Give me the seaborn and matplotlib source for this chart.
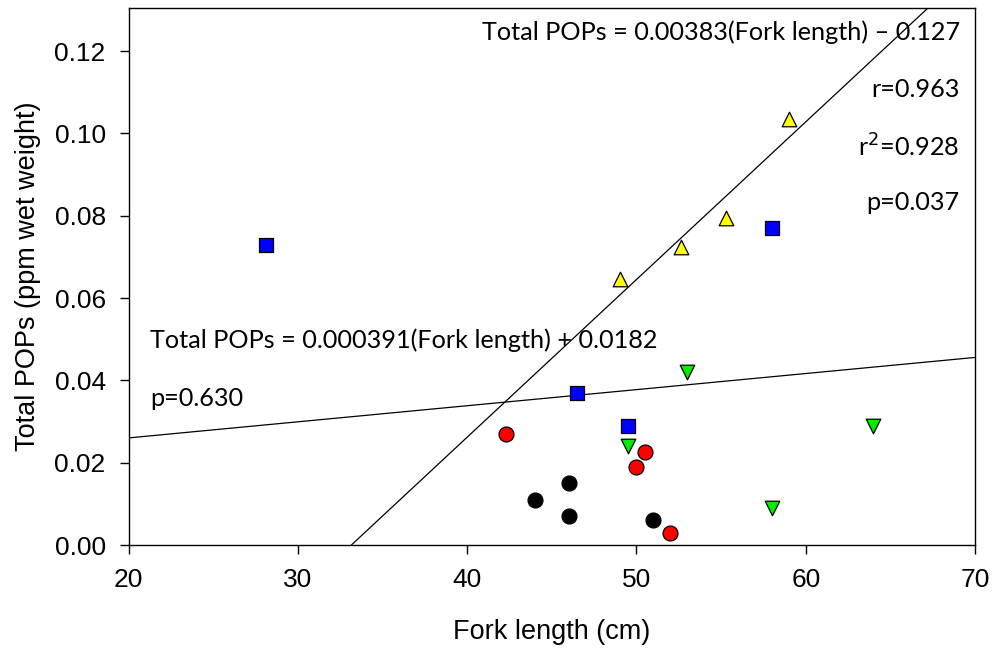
import matplotlib
matplotlib.use("Agg")
import matplotlib.pyplot as plt
import numpy as np
import pandas as pd
import seaborn as sns

# Fork length (cm) and total POPs (ppm wet weight) per group
sq_x = [28.1, 46.5, 49.5, 58.0]
sq_y = [0.073, 0.037, 0.029, 0.077]
up_x = [49.0, 52.6, 55.3, 59.0]
up_y = [0.0645, 0.0725, 0.0795, 0.1035]
dn_x = [53.0, 49.5, 64.0, 58.0]
dn_y = [0.042, 0.024, 0.029, 0.009]
red_x = [42.3, 50.5, 50.0, 52.0]
red_y = [0.027, 0.0225, 0.019, 0.003]
blk_x = [44.0, 46.0, 46.0, 51.0]
blk_y = [0.011, 0.015, 0.007, 0.006]

# Regression lines: slope, intercept
fit_steep = (0.00383, -0.127)
fit_flat = (0.000391, 0.0182)

x_ticks = [20, 30, 40, 50, 60, 70]
y_ticks = [0.00, 0.02, 0.04, 0.06, 0.08, 0.10, 0.12]

sns.set_theme(style="white")
plt.rcParams["font.family"] = ["Liberation Sans", "DejaVu Sans"]
plt.rcParams["text.color"] = "black"
plt.rcParams["axes.labelcolor"] = "black"
plt.rcParams["xtick.color"] = "black"
plt.rcParams["ytick.color"] = "black"

fig = plt.figure(figsize=(9.97, 6.5), dpi=100)
ax = fig.add_axes([0.129, 0.1615, 0.849, 0.8265])

groups = [
    (sq_x, sq_y, "s", "#0000ff", 95),
    (up_x, up_y, "^", "#ffff00", 110),
    (dn_x, dn_y, "v", "#00ee00", 110),
    (red_x, red_y, "o", "#ff0000", 115),
    (blk_x, blk_y, "o", "#000000", 115),
]
for gx, gy, mk, col, size in groups:
    df = pd.DataFrame({"x": gx, "y": gy})
    sns.scatterplot(data=df, x="x", y="y", marker=mk, color=col, s=size,
                    edgecolor="black", linewidth=0.9, ax=ax, zorder=3)

xs = np.array([20, 70])
for m, b in (fit_steep, fit_flat):
    ax.plot(xs, m * xs + b, color="black", lw=0.9, zorder=2)

ax.set_xlim(20, 70)
ax.set_ylim(0, 0.1305)
ax.set_xticks(x_ticks)
ax.set_yticks(y_ticks)
ax.set_yticklabels([f"{v:.2f}" for v in y_ticks])
ax.tick_params(axis="both", direction="out", length=6.5, width=1, color="black",
               labelsize=19, bottom=True, left=True)
ax.tick_params(axis="x", pad=10)
ax.tick_params(axis="y", pad=10)
for sp in ax.spines.values():
    sp.set_color("black")
    sp.set_linewidth(1)

ax.set_xlabel("Fork length (cm)", fontsize=19.5, va="center")
ax.set_ylabel("Total POPs (ppm wet weight)", fontsize=19.5, va="center")
ax.xaxis.set_label_coords(0.5, -0.162)
ax.yaxis.set_label_coords(-0.119, 0.5)

tf = dict(fontsize=18.2, family=["Lato", "DejaVu Sans"], transform=ax.transAxes,
          va="center", color="black")
ax.text(0.982, 0.955, "Total POPs = 0.00383(Fork length) \u2013 0.127", ha="right", **tf)
ax.text(0.982, 0.847, "r=0.963", ha="right", **tf)
ax.text(0.982, 0.741, "r$^2$=0.928", ha="right", **tf)
ax.text(0.982, 0.637, "p=0.037", ha="right", **tf)
ax.text(0.0253, 0.382, "Total POPs = 0.000391(Fork length) + 0.0182", ha="left", **tf)
ax.text(0.0253, 0.272, "p=0.630", ha="left", **tf)

fig.savefig("out.png", dpi=100)
